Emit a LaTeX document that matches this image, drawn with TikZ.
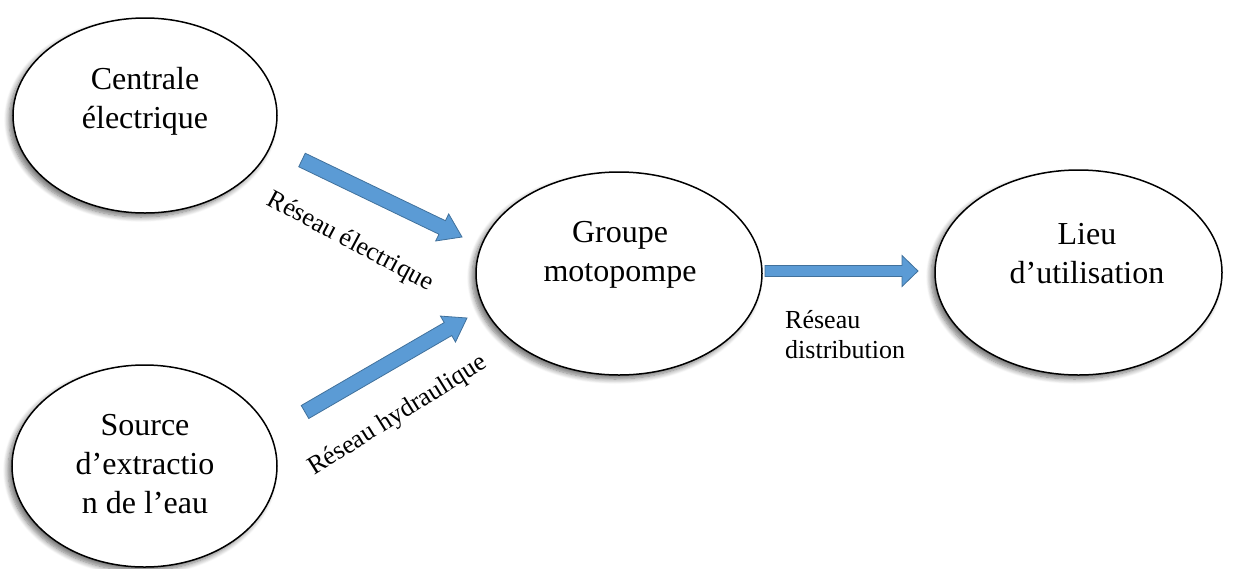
\documentclass[tikz,border=0pt]{standalone}
\usepackage{fontspec}
\setmainfont{Liberation Serif}
\usetikzlibrary{shapes.geometric,calc,shadows,shadows.blur}
\definecolor{arrowfill}{HTML}{5B9BD5}
\definecolor{arrowline}{HTML}{41719C}
\tikzset{
  bubble/.style={ellipse, draw=black, line width=1.5pt, fill=white, inner sep=0pt,
    blur shadow={shadow xshift=-4pt, shadow yshift=-4pt, shadow blur steps=8, shadow blur radius=5pt, shadow opacity=55}},
  bubbletext/.style={align=center, font=\fontsize{32}{39}\selectfont, inner sep=0pt},
  labeltext/.style={font=\fontsize{26}{30}\selectfont, inner sep=0pt},
  blockarrow/.style={fill=arrowfill, draw=arrowline, line width=0.8pt, line join=miter}
}
\newcommand\barrow[5]{%
  \coordinate (hb) at ($(#2)!#5!(#1)$);
  \draw[blockarrow] ($(#1)!#3!90:(#2)$) -- ($(hb)!#3!-90:(#1)$) -- ($(hb)!#4!-90:(#1)$) -- (#2)
    -- ($(hb)!#4!90:(#1)$) -- ($(hb)!#3!90:(#1)$) -- ($(#1)!#3!-90:(#2)$) -- cycle;
}
\begin{document}
\begin{tikzpicture}[x=1pt,y=-1pt]
\useasboundingbox (0,0) rectangle (1236,568);
% ellipses
\node[bubble, minimum width=264pt, minimum height=195pt] (e1) at (145,115.5) {};
\node[bubble, minimum width=265pt, minimum height=202pt] (e2) at (144.5,466) {};
\node[bubble, minimum width=286pt, minimum height=203pt] (e3) at (619,273.5) {};
\node[bubble, minimum width=287pt, minimum height=205pt] (e4) at (1078.5,272.5) {};
% texts
\node[bubbletext] (t1) at (145,101) {Centrale\\électrique};
\node[bubbletext] (t2) at (145,464) {Source\\d’extractio\\n de l’eau};
\node[bubbletext] (t3) at (620,255) {Groupe\\motopompe};
\node[bubbletext] (t4) at (1087,254) {Lieu\\d’utilisation};
% arrows
\coordinate (a1) at (302,160);
\coordinate (b1) at (462,237);
\coordinate (a2) at (305,412);
\coordinate (b2) at (467,318);
\coordinate (a3) at (765,271);
\coordinate (b3) at (918,271);
\barrow{a1}{b1}{7.5pt}{15pt}{22pt}
\barrow{a2}{b2}{7.5pt}{15pt}{22pt}
\barrow{a3}{b3}{5.5pt}{15.5pt}{16pt}
% labels
\node[labeltext, rotate=-28] (l1) at (350,242) {Réseau électrique};
\node[labeltext, rotate=32] (l2) at (398,416) {Réseau hydraulique};
\node[labeltext, align=left, anchor=north west] (l3) at (785,310) {Réseau\\distribution};
\end{tikzpicture}
\end{document}
